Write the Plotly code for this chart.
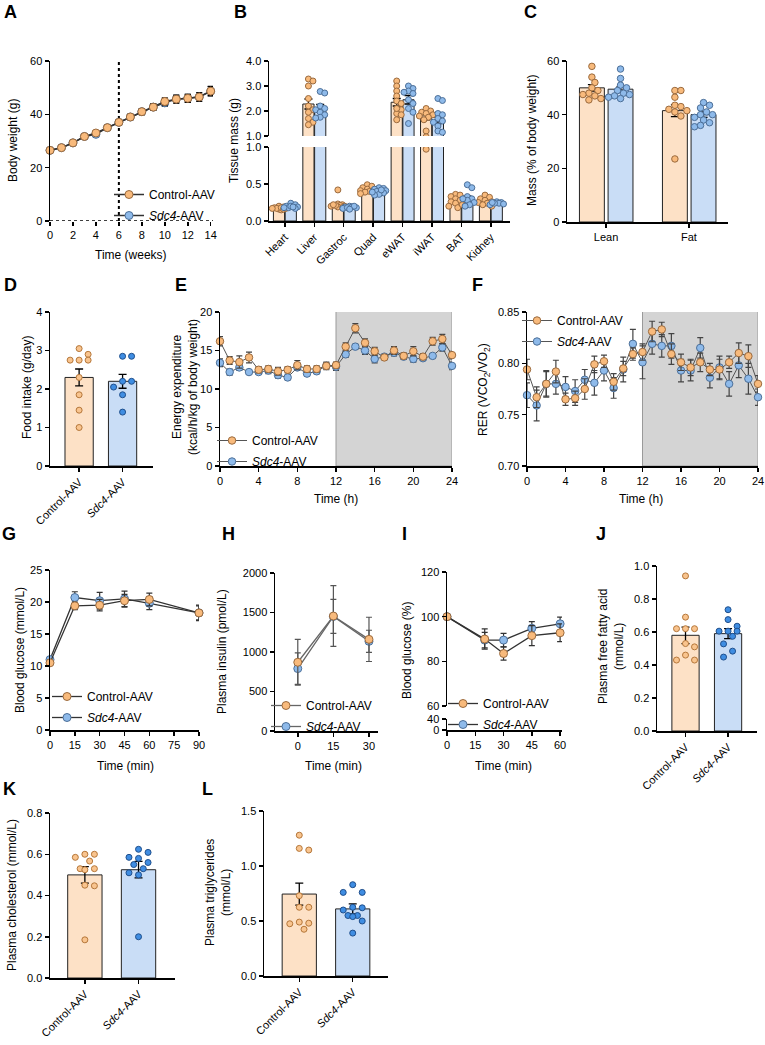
import plotly.graph_objects as go

W, H = 765, 1045
FONT = "Arial, 'Liberation Sans', Helvetica, sans-serif"

# ---------------- DATA ----------------
# A: body weight
weeks = list(range(15))
bw_ctrl = [26.5, 27.5, 29.3, 31.7, 33.0, 35.0, 37.0, 39.0, 41.0, 42.7, 44.8, 45.7, 46.0, 46.5, 48.7]
bw_ctrl_sem = [0.6, 0.6, 0.7, 0.8, 0.8, 0.9, 1.0, 1.0, 1.1, 1.2, 1.4, 1.5, 1.5, 1.6, 1.8]
bw_sdc4 = [26.5, 27.5, 29.3, 31.7, 32.5, 35.0, 37.0, 39.0, 41.0, 42.7, 44.3, 45.7, 46.0, 46.5, 48.7]
bw_sdc4_sem = [0.6, 0.6, 0.7, 0.8, 0.8, 0.9, 1.0, 1.0, 1.1, 1.2, 1.3, 1.4, 1.5, 1.6, 1.7]

# B: tissue mass
tissues = ["Heart", "Liver", "Gastroc", "Quad", "eWAT", "iWAT", "BAT", "Kidney"]
tm_ctrl_mean = [0.17, 2.28, 0.21, 0.41, 2.35, 1.75, 0.28, 0.26]
tm_ctrl_sem = [0.01, 0.20, 0.02, 0.01, 0.15, 0.10, 0.02, 0.015]
tm_sdc4_mean = [0.19, 2.13, 0.18, 0.39, 2.45, 1.63, 0.30, 0.24]
tm_sdc4_sem = [0.01, 0.13, 0.01, 0.01, 0.17, 0.13, 0.04, 0.01]
tm_ctrl_pts = [
    [0.20, 0.19, 0.18, 0.17, 0.16, 0.15, 0.17, 0.18, 0.16, 0.17],
    [3.28, 3.20, 3.00, 2.50, 2.20, 2.05, 1.95, 1.70, 1.55, 1.45],
    [0.42, 0.23, 0.22, 0.21, 0.20, 0.20, 0.19, 0.18, 0.21, 0.22],
    [0.49, 0.47, 0.45, 0.43, 0.41, 0.40, 0.39, 0.38, 0.37, 0.42],
    [3.20, 3.00, 2.80, 2.60, 2.40, 2.30, 2.05, 1.90, 1.85, 1.65, 2.10],
    [2.10, 2.00, 1.95, 1.90, 1.85, 1.80, 1.75, 1.65, 1.20, 0.97],
    [0.36, 0.35, 0.33, 0.30, 0.28, 0.26, 0.24, 0.20, 0.18, 0.22],
    [0.35, 0.32, 0.30, 0.28, 0.26, 0.25, 0.24, 0.22, 0.20],
]
tm_sdc4_pts = [
    [0.24, 0.22, 0.20, 0.19, 0.18, 0.17, 0.20, 0.19, 0.18],
    [2.78, 2.72, 2.20, 2.05, 1.95, 1.85, 1.75, 1.72, 2.10],
    [0.20, 0.19, 0.18, 0.17, 0.19, 0.18, 0.20, 0.16],
    [0.45, 0.44, 0.43, 0.41, 0.40, 0.38, 0.36, 0.35, 0.39, 0.42],
    [3.00, 2.90, 2.80, 2.70, 2.45, 2.30, 2.10, 1.95, 1.50, 2.75],
    [2.50, 2.42, 1.90, 1.85, 1.70, 1.55, 1.40, 1.20, 1.15, 1.60],
    [0.49, 0.45, 0.33, 0.30, 0.28, 0.25, 0.22, 0.20, 0.30],
    [0.26, 0.25, 0.24, 0.24, 0.23, 0.22, 0.25],
]

# C: body composition
comp_cats = ["Lean", "Fat"]
comp_ctrl_mean = [50.0, 41.5]
comp_ctrl_sem = [1.2, 2.2]
comp_sdc4_mean = [49.5, 40.0]
comp_sdc4_sem = [0.9, 1.0]
comp_ctrl_pts = [[58, 54, 52, 50, 49, 48, 47.5, 46, 45.5, 47],
                 [49, 49, 46.5, 43.5, 42, 41.5, 41, 39.5, 23.5, 43]]
comp_sdc4_pts = [[57, 53.5, 51, 50, 49, 48, 47, 46.5, 46, 47.5],
                 [44.5, 43.5, 42.5, 41, 40, 39, 38, 37, 35.5, 36, 40]]

groups = ["Control-AAV", "<i>Sdc4</i>-AAV"]

# D: food intake
food_mean = [2.3, 2.2]
food_sem = [0.22, 0.18]
food_ctrl_pts = [3.05, 2.9, 2.75, 2.75, 2.75, 2.3, 1.85, 1.45, 1.0]
food_sdc4_pts = [2.85, 2.85, 2.2, 2.2, 2.05, 1.85, 1.4]

# E: energy expenditure
hours = list(range(25))
ee_ctrl = [16.2, 13.7, 13.5, 14.1, 12.5, 12.6, 12.3, 12.5, 13.1, 12.6, 12.6, 13.0, 13.1,
           15.5, 17.9, 16.0, 14.9, 14.1, 15.0, 14.3, 14.9, 14.2, 16.2, 16.5, 14.4]
ee_ctrl_sem = [0.6, 0.5, 0.8, 0.7, 0.4, 0.4, 0.5, 0.4, 0.6, 0.4, 0.4, 0.4, 0.4,
               0.5, 0.6, 0.5, 0.5, 0.3, 0.5, 0.4, 0.6, 0.4, 0.5, 0.6, 0.5]
ee_sdc4 = [13.4, 12.2, 12.8, 12.2, 12.2, 12.4, 11.8, 11.5, 12.8, 12.0, 12.3, 13.0, 12.9,
           14.5, 15.5, 15.0, 13.9, 14.2, 14.7, 14.2, 13.9, 14.0, 14.3, 15.4, 13.0]
ee_sdc4_sem = [0.5, 0.4, 0.4, 0.3, 0.3, 0.4, 0.4, 0.3, 0.4, 0.3, 0.3, 0.5, 0.5,
               0.4, 0.3, 0.5, 0.5, 0.3, 0.4, 0.3, 0.4, 0.3, 0.3, 0.5, 0.5]

# F: RER
rer_ctrl = [0.794, 0.767, 0.780, 0.792, 0.765, 0.766, 0.775, 0.799, 0.802, 0.782, 0.795, 0.809, 0.811,
            0.831, 0.833, 0.809, 0.801, 0.796, 0.801, 0.794, 0.794, 0.801, 0.810, 0.807, 0.780]
rer_ctrl_sem = [0.010, 0.010, 0.013, 0.011, 0.006, 0.007, 0.010, 0.008, 0.006, 0.008, 0.007, 0.006, 0.008,
                0.010, 0.007, 0.010, 0.008, 0.008, 0.009, 0.006, 0.010, 0.006, 0.010, 0.011, 0.008]
rer_sdc4 = [0.769, 0.759, 0.780, 0.780, 0.777, 0.773, 0.784, 0.781, 0.793, 0.776, 0.794, 0.819, 0.801,
            0.819, 0.817, 0.817, 0.793, 0.793, 0.815, 0.786, 0.796, 0.780, 0.798, 0.785, 0.767]
rer_sdc4_sem = [0.012, 0.015, 0.012, 0.010, 0.010, 0.011, 0.010, 0.012, 0.010, 0.010, 0.012, 0.014, 0.016,
                0.010, 0.011, 0.012, 0.011, 0.010, 0.010, 0.010, 0.011, 0.012, 0.012, 0.015, 0.008]

# G: GTT
gtt_t = [0, 15, 30, 45, 60, 90]
gtt_ctrl = [10.5, 19.4, 19.5, 20.2, 20.4, 18.3]
gtt_ctrl_sem = [0.4, 0.6, 0.9, 1.0, 1.0, 1.2]
gtt_sdc4 = [11.0, 20.7, 20.2, 20.5, 19.8, 18.3]
gtt_sdc4_sem = [0.4, 0.9, 1.3, 1.2, 1.0, 1.1]

# H: insulin
ins_t = [0, 15, 30]
ins_ctrl = [870, 1455, 1160]
ins_ctrl_sem = [290, 385, 280]
ins_sdc4 = [790, 1450, 1135]
ins_sdc4_sem = [200, 215, 140]

# I: ITT
itt_t = [0, 20, 30, 45, 60]
itt_ctrl = [100, 90, 83.5, 91.5, 92.8]
itt_ctrl_sem = [0, 4.5, 3.0, 4.5, 4.0]
itt_sdc4 = [100, 89.5, 89.5, 94.8, 96.8]
itt_sdc4_sem = [0, 3.5, 3.0, 3.0, 3.0]

# J: free fatty acid
ffa_mean = [0.58, 0.59]
ffa_sem = [0.05, 0.03]
ffa_ctrl_pts = [0.94, 0.69, 0.62, 0.62, 0.62, 0.53, 0.51, 0.46, 0.43, 0.43]
ffa_sdc4_pts = [0.735, 0.675, 0.635, 0.605, 0.605, 0.605, 0.574, 0.528, 0.484, 0.448]

# K: cholesterol
chol_mean = [0.50, 0.525]
chol_sem = [0.04, 0.04]
chol_ctrl_pts = [0.60, 0.60, 0.585, 0.567, 0.53, 0.53, 0.525, 0.447, 0.45, 0.185]
chol_sdc4_pts = [0.624, 0.609, 0.585, 0.58, 0.56, 0.55, 0.53, 0.51, 0.50, 0.20]

# L: triglycerides
tg_mean = [0.745, 0.61]
tg_sem = [0.10, 0.045]
tg_ctrl_pts = [1.28, 1.16, 1.145, 0.73, 0.625, 0.625, 0.49, 0.48, 0.475, 0.425]
tg_sdc4_pts = [0.83, 0.76, 0.76, 0.625, 0.62, 0.60, 0.55, 0.55, 0.54, 0.50, 0.39]

# ---------------- STYLE ----------------
O_FILL, O_EDGE = "#F8BA7C", "#9A6A3E"
B_FILL, B_EDGE = "#8EBAEA", "#4C6F98"
BAR_O, BAR_B = "#FDE1C6", "#C9DDF6"
PO_FILL, PO_EDGE = "#F9C48E", "#B5773A"
PB_FILL, PB_EDGE = "#3F8DE2", "#1F4F8C"

layout = dict(width=W, height=H, margin=dict(l=0, r=0, t=0, b=0, autoexpand=False),
              paper_bgcolor="white", plot_bgcolor="rgba(0,0,0,0)",
              barmode="overlay", showlegend=True,
              font=dict(family=FONT, size=11, color="black"),
              shapes=[], annotations=[])

AX = dict(showline=True, linecolor="black", linewidth=1.5, ticks="outside", ticklen=4,
          tickwidth=1.5, tickcolor="black", showgrid=False, zeroline=False, automargin=False,
          tickfont=dict(family=FONT, size=11, color="black"), fixedrange=True)


def axes(n, x0, x1, y0, y1, xr, yr, xkw=None, ykw=None):
    s = "" if n == 1 else str(n)
    xa = dict(AX, domain=[x0 / W, x1 / W], range=xr, anchor="y" + s)
    ya = dict(AX, domain=[1 - y1 / H, 1 - y0 / H], range=yr, anchor="x" + s)
    xa.update(xkw or {})
    ya.update(ykw or {})
    layout["xaxis" + s] = xa
    layout["yaxis" + s] = ya
    return "x" + s, "y" + s


def ann(text, x, y, size=12, angle=0, bold=False):
    if bold:
        text = "<b>" + text + "</b>"
    layout["annotations"].append(dict(text=text, x=x / W, y=1 - y / H, xref="paper", yref="paper",
                                      showarrow=False, textangle=angle, xanchor="center",
                                      yanchor="middle", font=dict(family=FONT, size=size, color="black")))


def legend_cfg(xm, ytop):
    return dict(x=(xm - 21) / W, y=1 - (ytop - 10) / H, xanchor="left", yanchor="top",
                bgcolor="rgba(0,0,0,0)", borderwidth=0, tracegroupgap=2,
                font=dict(family=FONT, size=12, color="black"),
                itemclick=False, itemdoubleclick=False)


traces = []


def line_pair(xa, ya, x, yc, ec, ys, es, leg, size=8, lw=1.5, lcol="#333333", ecol="black"):
    for nm, y, e, fill, edge, rank in [(groups[1], ys, es, B_FILL, B_EDGE, 2),
                                       (groups[0], yc, ec, O_FILL, O_EDGE, 1)]:
        traces.append(go.Scatter(
            x=x, y=y, xaxis=xa, yaxis=ya, mode="lines+markers", name=nm,
            legend=leg, legendgroup=leg + str(rank), legendrank=rank,
            line=dict(color=lcol, width=lw),
            marker=dict(size=size, color=fill, line=dict(color=edge, width=1)),
            error_y=dict(type="data", array=e, visible=True, color=ecol, thickness=1.2, width=3),
            cliponaxis=False, hoverinfo="skip"))


def swarm(vals, ypx, xpx, dmin, maxoff):
    """Spread points horizontally (pixel layout only) so they overlap less."""
    order = sorted(range(len(vals)), key=lambda i: -vals[i])
    placed, offs = [], [0.0] * len(vals)
    step = dmin * 0.5
    cands = [0.0]
    j = 1
    while j * step <= maxoff + 1e-9:
        cands += [j * step, -j * step]
        j += 1
    for i in order:
        py = ypx(vals[i])
        best, bestd = 0.0, -1
        for c in cands:
            md = min([((c - qx) ** 2 + (py - qy) ** 2) ** 0.5 for qx, qy in placed] or [1e9])
            if md >= dmin:
                best = c
                break
            if md > bestd:
                best, bestd = c, md
        placed.append((best, py))
        offs[i] = best / xpx
    return offs


def bar_group(axlist, centers, means, sems, pts, width, bfill, pfill, pedge, psize, ypx, xpx,
              dmin, maxoff):
    for xa, ya in axlist:
        traces.append(go.Bar(x=centers, y=means, width=width, xaxis=xa, yaxis=ya,
                             marker=dict(color=bfill, line=dict(color="#222222", width=1)),
                             error_y=dict(type="data", array=sems, color="black", thickness=1.3, width=4),
                             showlegend=False, hoverinfo="skip"))
    px_, py_ = [], []
    for c, vals in zip(centers, pts):
        offs = swarm(vals, ypx, xpx, dmin, maxoff)
        px_ += [c + o for o in offs]
        py_ += list(vals)
    for xa, ya in axlist:
        traces.append(go.Scatter(x=px_, y=py_, xaxis=xa, yaxis=ya, mode="markers",
                                 marker=dict(size=psize, color=pfill, line=dict(color=pedge, width=1)),
                                 showlegend=False, hoverinfo="skip", cliponaxis=True))


# ---------------- PANEL A ----------------
xa, ya = axes(1, 50, 213, 61, 221, [0, 14.2], [0, 60],
              xkw=dict(tickvals=list(range(0, 15, 2)), showline=False),
              ykw=dict(tickvals=[0, 20, 40, 60]))
line_pair(xa, ya, weeks, bw_ctrl, bw_ctrl_sem, bw_sdc4, bw_sdc4_sem, "legend", size=8)
layout["shapes"].append(dict(type="line", xref=xa, yref=ya, x0=6, x1=6, y0=0, y1=60,
                             line=dict(color="black", width=2, dash="dot"), layer="below"))
layout["shapes"].append(dict(type="line", xref=xa, yref=ya, x0=0, x1=14.2, y0=0, y1=0,
                             line=dict(color="black", width=1.5, dash="dot")))
layout["legend"] = legend_cfg(130, 190)
ann("Body weight (g)", 13, 141, angle=-90)
ann("Time (weeks)", 131, 255)

# ---------------- PANEL B ----------------
bx = [-0.54, 7.65]
xb2, yb2 = axes(2, 269, 510, 61, 136, bx, [1, 4],
                xkw=dict(visible=False),
                ykw=dict(tickvals=[1, 2, 3, 4], ticktext=["1.0", "2.0", "3.0", "4.0"]))
xb3, yb3 = axes(3, 269, 510, 147, 221, bx, [0, 1],
                xkw=dict(tickvals=list(range(8)), ticktext=tissues, tickangle=-45),
                ykw=dict(tickvals=[0, 0.5, 1.0], ticktext=["0.0", "0.5", "1.0"]))


def b_ypx(v):
    return (v - 1) * 25 if v >= 1 else -(1 - v) * 74 - 11


bar_group([(xb3, yb3), (xb2, yb2)], [i - 0.2 for i in range(8)], tm_ctrl_mean, tm_ctrl_sem,
          tm_ctrl_pts, 0.38, BAR_O, O_FILL, O_EDGE, 6, b_ypx, 29.4, 4.5, 7)
bar_group([(xb3, yb3), (xb2, yb2)], [i + 0.2 for i in range(8)], tm_sdc4_mean, tm_sdc4_sem,
          tm_sdc4_pts, 0.38, BAR_B, B_FILL, B_EDGE, 6, b_ypx, 29.4, 4.5, 7)
ann("Tissue mass (g)", 234, 141, angle=-90)

# ---------------- PANEL C ----------------
xc, yc = axes(4, 567, 728, 61, 222, [-0.47, 1.47], [0, 60],
              xkw=dict(tickvals=[0, 1], ticktext=comp_cats),
              ykw=dict(tickvals=[0, 20, 40, 60]))
bar_group([(xc, yc)], [-0.17, 0.83], comp_ctrl_mean, comp_ctrl_sem, comp_ctrl_pts, 0.3,
          BAR_O, O_FILL, O_EDGE, 6.5, lambda v: v * 2.68, 83, 6, 12)
bar_group([(xc, yc)], [0.175, 1.175], comp_sdc4_mean, comp_sdc4_sem, comp_sdc4_pts, 0.3,
          BAR_B, B_FILL, B_EDGE, 6.5, lambda v: v * 2.68, 83, 6, 12)
ann("Mass (% of body weight)", 532, 141, angle=-90)

# ---------------- PANEL D ----------------
xd_, yd_ = axes(5, 50, 153, 312, 466, [-0.67, 1.7], [0, 4],
                xkw=dict(tickvals=[0, 1], ticktext=groups, tickangle=-45),
                ykw=dict(tickvals=[0, 1, 2, 3, 4]))
bar_group([(xd_, yd_)], [0], [food_mean[0]], [food_sem[0]], [food_ctrl_pts], 0.65,
          BAR_O, PO_FILL, PO_EDGE, 6, lambda v: v * 38.5, 43.5, 9, 13)
bar_group([(xd_, yd_)], [1], [food_mean[1]], [food_sem[1]], [food_sdc4_pts], 0.65,
          BAR_B, PB_FILL, PB_EDGE, 6, lambda v: v * 38.5, 43.5, 9, 13)
ann("Food intake (g/day)", 27, 388, angle=-90)

# ---------------- PANEL E ----------------
xe, ye = axes(6, 220, 452, 312, 466, [0, 24], [0, 20],
              xkw=dict(tickvals=list(range(0, 25, 4))),
              ykw=dict(tickvals=[0, 5, 10, 15, 20]))
layout["shapes"].append(dict(type="rect", xref=xe, yref=ye, x0=12, x1=24, y0=0, y1=20.2,
                             fillcolor="#D4D4D4", line=dict(color="#9A9A9A", width=1), layer="below"))
line_pair(xe, ye, hours, ee_ctrl, ee_ctrl_sem, ee_sdc4, ee_sdc4_sem, "legend2", size=7.5,
          lw=1, lcol="#555555", ecol="#444444")
layout["legend2"] = legend_cfg(233, 436)
ann("Energy expenditure<br>(kcal/h/kg of body weight)", 185, 387, angle=-90)
ann("Time (h)", 336, 499)

# ---------------- PANEL F ----------------
xf, yf = axes(7, 527, 758, 312, 466, [0, 24], [0.70, 0.85],
              xkw=dict(tickvals=list(range(0, 25, 4))),
              ykw=dict(tickvals=[0.70, 0.75, 0.80, 0.85], ticktext=["0.70", "0.75", "0.80", "0.85"]))
layout["shapes"].append(dict(type="rect", xref=xf, yref=yf, x0=12, x1=24, y0=0.70, y1=0.855,
                             fillcolor="#D4D4D4", line=dict(color="#9A9A9A", width=1), layer="below"))
line_pair(xf, yf, hours, rer_ctrl, rer_ctrl_sem, rer_sdc4, rer_sdc4_sem, "legend3", size=7.5,
          lw=1, lcol="#555555", ecol="#444444")
layout["legend3"] = legend_cfg(538, 316)
ann("RER (VCO<sub>2</sub>/VO<sub>2</sub>)", 484, 390, angle=-90)
ann("Time (h)", 641, 499)

# ---------------- PANEL G ----------------
xg, yg = axes(8, 50, 199, 570, 730, [0, 90], [0, 25],
              xkw=dict(tickvals=[0, 15, 30, 45, 60, 75, 90]),
              ykw=dict(tickvals=[0, 5, 10, 15, 20, 25]))
line_pair(xg, yg, gtt_t, gtt_ctrl, gtt_ctrl_sem, gtt_sdc4, gtt_sdc4_sem, "legend4", size=8,
          lw=1.3, lcol="#333333", ecol="#333333")
layout["legend4"] = legend_cfg(68, 692)
ann("Blood glucose (mmol/L)", 20, 650, angle=-90)
ann("Time (min)", 125, 766)

# ---------------- PANEL H ----------------
xh, yh = axes(9, 275, 378, 573, 731, [-9.6, 33.8], [0, 2000],
              xkw=dict(tickvals=[0, 15, 30]),
              ykw=dict(tickvals=[0, 500, 1000, 1500, 2000]))
line_pair(xh, yh, ins_t, ins_ctrl, ins_ctrl_sem, ins_sdc4, ins_sdc4_sem, "legend5", size=8,
          lw=1.3, lcol="#666666", ecol="#555555")
layout["legend5"] = legend_cfg(287, 701)
ann("Plasma insulin (pmol/L)", 222, 652, angle=-90)
ann("Time (min)", 333, 766)

# ---------------- PANEL I ----------------
xi, yi = axes(10, 447, 562, 572, 706, [0, 61], [60, 120],
              xkw=dict(visible=False),
              ykw=dict(tickvals=[60, 80, 100, 120]))
xi2, yi2 = axes(11, 447, 562, 719, 730, [0, 61], [0, 40],
                xkw=dict(tickvals=[0, 15, 30, 45, 60]),
                ykw=dict(tickvals=[0, 40]))
traces.append(go.Scatter(x=[None], y=[None], xaxis=xi2, yaxis=yi2, showlegend=False))
line_pair(xi, yi, itt_t, itt_ctrl, itt_ctrl_sem, itt_sdc4, itt_sdc4_sem, "legend6", size=8,
          lw=1.3, lcol="#333333", ecol="#333333")
layout["legend6"] = legend_cfg(464, 699)
ann("Blood glucose (%)", 407, 651, angle=-90)
ann("Time (min)", 503, 766)

# ---------------- PANEL J ----------------
xj, yj = axes(12, 657, 757, 566, 731, [-0.67, 1.68], [0, 1.0],
              xkw=dict(tickvals=[0, 1], ticktext=groups, tickangle=-45),
              ykw=dict(tickvals=[0, 0.2, 0.4, 0.6, 0.8, 1.0], tickformat=".1f"))
bar_group([(xj, yj)], [0], [ffa_mean[0]], [ffa_sem[0]], [ffa_ctrl_pts], 0.64,
          BAR_O, PO_FILL, PO_EDGE, 6, lambda v: v * 166, 42.5, 9, 12)
bar_group([(xj, yj)], [1], [ffa_mean[1]], [ffa_sem[1]], [ffa_sdc4_pts], 0.64,
          BAR_B, PB_FILL, PB_EDGE, 6, lambda v: v * 166, 42.5, 9, 12)
ann("Plasma free fatty acid<br>(mmol/L)", 611, 647, angle=-90)

# ---------------- PANEL K ----------------
xk, yk = axes(13, 50, 175, 813, 978, [-0.65, 1.68], [0, 0.8],
              xkw=dict(tickvals=[0, 1], ticktext=groups, tickangle=-45),
              ykw=dict(tickvals=[0, 0.2, 0.4, 0.6, 0.8], tickformat=".1f"))
bar_group([(xk, yk)], [0], [chol_mean[0]], [chol_sem[0]], [chol_ctrl_pts], 0.64,
          BAR_O, PO_FILL, PO_EDGE, 6, lambda v: v * 206, 53.5, 9.5, 14)
bar_group([(xk, yk)], [1], [chol_mean[1]], [chol_sem[1]], [chol_sdc4_pts], 0.64,
          BAR_B, PB_FILL, PB_EDGE, 6, lambda v: v * 206, 53.5, 9.5, 14)
ann("Plasma cholesterol (mmol/L)", 12, 895, angle=-90)

# ---------------- PANEL L ----------------
xl, yl = axes(14, 264, 388, 811, 976, [-0.66, 1.66], [0, 1.5],
              xkw=dict(tickvals=[0, 1], ticktext=groups, tickangle=-45),
              ykw=dict(tickvals=[0, 0.5, 1.0, 1.5], tickformat=".1f"))
bar_group([(xl, yl)], [0], [tg_mean[0]], [tg_sem[0]], [tg_ctrl_pts], 0.64,
          BAR_O, PO_FILL, PO_EDGE, 6, lambda v: v * 110, 53.5, 9.5, 14)
bar_group([(xl, yl)], [1], [tg_mean[1]], [tg_sem[1]], [tg_sdc4_pts], 0.64,
          BAR_B, PB_FILL, PB_EDGE, 6, lambda v: v * 110, 53.5, 9.5, 14)
ann("Plasma triglycerides<br>(mmol/L)", 218, 893, angle=-90)

# ---------------- panel letters ----------------
for letter, x, y in [("A", 10, 12), ("B", 240, 12), ("C", 530, 12), ("D", 10, 285),
                     ("E", 181, 285), ("F", 477, 285), ("G", 9, 534), ("H", 228, 534),
                     ("I", 404, 534), ("J", 601, 534), ("K", 9, 789), ("L", 208, 789)]:
    ann(letter, x, y, size=18, bold=True)

fig = go.Figure(data=traces, layout=layout)
fig.write_html("out.html", config={"displayModeBar": False, "staticPlot": True},
               post_script="document.body.style.margin='0px';document.body.style.overflow='hidden';")
